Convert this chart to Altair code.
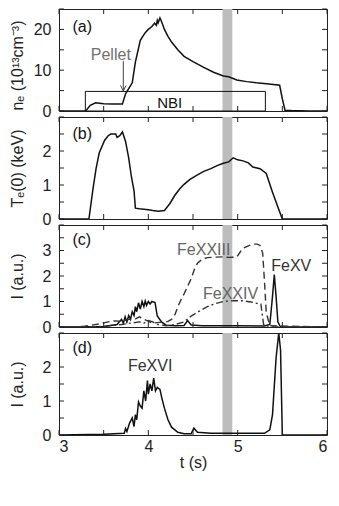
import altair as alt
import pandas as pd

# ---------------- data ----------------
ne_t = [3.0, 3.29, 3.31, 3.35, 3.41, 3.5, 3.6, 3.71, 3.745, 3.78, 3.82, 3.855, 3.91, 3.965, 4.0, 4.04,
        4.07, 4.09, 4.1, 4.11, 4.13, 4.15, 4.18, 4.22, 4.26, 4.33, 4.40, 4.5, 4.62, 4.73, 4.84, 4.9,
        4.99, 5.1, 5.21, 5.35, 5.47, 5.5, 5.53, 5.6, 5.8, 6.0]
ne_v = [0, 0, 0.3, 1.4, 2.0, 1.8, 1.7, 1.7, 4.2, 5.5, 6.9, 12, 17.3, 19.2, 20, 20.7,
        21.5, 21.0, 22.2, 21.6, 22.8, 21.8, 20, 18.3, 16.9, 15, 13.4, 12.1, 10.7, 9.5, 8.6, 8.4,
        7.6, 7.2, 6.9, 6.6, 6.3, 3, 0.2, 0.1, 0, 0]

te_t = [3.0, 3.335, 3.38, 3.415, 3.45, 3.51, 3.55, 3.58, 3.635, 3.65, 3.68, 3.71, 3.745, 3.78, 3.81,
        3.84, 3.855, 3.9, 3.95, 4.0, 4.05, 4.11, 4.18, 4.24, 4.295, 4.35, 4.40, 4.47, 4.55, 4.62,
        4.70, 4.77, 4.84, 4.9, 4.95, 5.0, 5.06, 5.12, 5.17, 5.25, 5.32, 5.39, 5.45, 5.50, 6.0]
te_v = [0, 0, 0.88, 1.48, 1.94, 2.31, 2.45, 2.5, 2.5, 2.4, 2.45, 2.56, 2.28, 1.8, 1.25,
        0.83, 0.32, 0.3, 0.29, 0.27, 0.25, 0.23, 0.25, 0.45, 0.69, 0.88, 1.02, 1.17, 1.3, 1.4,
        1.48, 1.57, 1.64, 1.68, 1.8, 1.74, 1.71, 1.65, 1.53, 1.48, 1.34, 0.79, 0.35, 0, 0]

fe15_t = [3.0, 3.5, 3.65, 3.7, 3.72, 3.74, 3.76, 3.78, 3.8, 3.82, 3.84, 3.855, 3.87, 3.89, 3.91,
          3.93, 3.95, 3.965, 3.98, 4.0, 4.02, 4.04, 4.075, 4.1, 4.15, 4.2, 4.3, 4.4, 4.44, 4.48,
          4.6, 5.0, 5.3, 5.36, 5.39, 5.41, 5.43, 5.45, 5.48, 6.0]
fe15_v = [0, 0.02, 0.1, 0.3, 0.15, 0.4, 0.2, 0.45, 0.3, 0.6, 0.45, 0.8, 0.6, 0.95, 0.7,
          1.0, 0.8, 1.02, 0.85, 1.0, 0.9, 1.0, 0.96, 0.43, 0.19, 0.07, 0.05, 0.06, 0.25, 0.08,
          0.05, 0.05, 0.04, 0.1, 1.2, 2.06, 1.2, 0.2, 0, 0]

fe23_t = [3.0, 3.27, 3.45, 3.55, 3.62, 3.7, 3.78, 3.85, 3.9, 3.95, 4.05, 4.15, 4.22, 4.26, 4.3,
          4.33, 4.37, 4.40, 4.44, 4.48, 4.52, 4.55, 4.6, 4.66, 4.75, 4.84, 4.9, 4.99, 5.03, 5.06,
          5.12, 5.17, 5.22, 5.25, 5.28, 5.30, 5.32, 5.36, 6.0]
fe23_v = [0, 0.02, 0.12, 0.2, 0.24, 0.22, 0.3, 0.3, 0.4, 0.3, 0.15, 0.19, 0.22, 0.3, 0.5,
          0.8, 1.1, 1.3, 1.6, 1.9, 2.3, 2.5, 2.65, 2.72, 2.74, 2.75, 2.73, 2.74, 2.95, 3.09,
          3.18, 3.25, 3.25, 3.2, 2.9, 1.8, 0.56, 0.05, 0]

fe24_t = [3.0, 3.5, 3.7, 3.8, 3.9, 3.95, 4.0, 4.05, 4.1, 4.2, 4.3, 4.4, 4.48, 4.56, 4.66,
          4.75, 4.84, 4.95, 5.06, 5.15, 5.21, 5.26, 5.29, 5.32, 6.0]
fe24_v = [0, 0.02, 0.1, 0.15, 0.2, 0.15, 0.25, 0.2, 0.1, 0.05, 0.1, 0.2, 0.43, 0.6, 0.8,
          0.92, 1.0, 1.03, 1.03, 0.98, 0.93, 0.9, 0.1, 0, 0]

fe16_t = [3.0, 3.5, 3.73, 3.745, 3.76, 3.79, 3.82, 3.84, 3.855, 3.87, 3.89, 3.91, 3.93, 3.95,
          3.97, 3.99, 4.0, 4.02, 4.04, 4.06, 4.08, 4.10, 4.13, 4.15, 4.18, 4.22, 4.26, 4.33,
          4.40, 4.48, 4.51, 4.55, 4.7, 5.0, 5.3, 5.36, 5.39, 5.43, 5.46, 5.48, 5.50, 6.0]
fe16_v = [0, 0.02, 0.05, 0.19, 0.1, 0.35, 0.5, 0.25, 0.6, 0.45, 0.97, 0.85, 0.79, 1.3,
          1.0, 1.6, 1.2, 1.5, 1.3, 1.67, 1.3, 1.4, 1.34, 1.1, 0.79, 0.45, 0.23, 0.08,
          0.04, 0.04, 0.2, 0.08, 0.05, 0.05, 0.05, 0.15, 0.6, 2.27, 3.0, 2.5, 0, 0]

band_t = [4.83, 4.94]            # shaded time window
nbi_t = [3.295, 5.31]            # NBI on/off
nbi_level = 4.8
pellet_t = 3.72
pellet_arrow = [12.2, 4.9]

x_ticks = [3, 3.5, 4, 4.5, 5, 5.5, 6]
x_labels = [3, 4, 5, 6]

panel_letters = ["(a)", "(b)", "(c)", "(d)"]
letter_y = [20.7, 2.5, 3.4, 2.55]
letter_t = 3.15

# annotation texts: (text, t, y, colour)
ann_a = [("Pellet", 3.58, 13.8, "#707070"), ("NBI", 4.24, 2.0, "#111111")]
ann_c = [("FeXXIII", 4.62, 3.03, "#666666"), ("FeXXIV", 4.92, 1.3, "#666666"),
         ("FeXV", 5.60, 2.4, "#333333")]
ann_d = [("FeXVI", 4.02, 2.03, "#333333")]

W, H = 268, 102
TK = 5  # tick length (inward)
FONT = "Liberation Sans"
INK = "#222222"
XS = alt.Scale(domain=[3, 6], nice=False)


def df(t, v):
    return pd.DataFrame({"t": t, "v": v})


def panel(lines, ydom, yticks, ylabels, ytitle, xlabels, extra=(), title_y=H / 2):
    ys = alt.Scale(domain=ydom, nice=False)
    none_x = alt.X("t:Q", scale=XS, axis=None)
    none_y = alt.Y("v:Q", scale=ys, axis=None)

    band = alt.Chart(pd.DataFrame({"t": [band_t[0]], "t2": [band_t[1]]})).mark_rect(
        color="#bdbdbd").encode(x=none_x, x2="t2:Q")

    if xlabels:
        ax_bottom = alt.Axis(orient="bottom", values=x_labels, ticks=False, tickSize=0,
                             domain=False, grid=False, labelFlush=True, labelOverlap=False,
                             format="d", labelPadding=3, title="t (s)", titlePadding=0)
    else:
        ax_bottom = None
    ax_left = alt.Axis(orient="left", values=ylabels, ticks=False, tickSize=0, domain=False,
                       grid=False, labelPadding=8, labelOverlap=False,
                       format="d", title=ytitle, titleX=-34, titleY=title_y, titleAngle=270,
                       titleAlign="center", titleBaseline="bottom")

    d0, style0 = lines[0]
    main = alt.Chart(d0).mark_line(clip=True, color="#111111", strokeWidth=1.5,
                                   **style0).encode(
        x=alt.X("t:Q", scale=XS, axis=ax_bottom), y=alt.Y("v:Q", scale=ys, axis=ax_left))
    others = [alt.Chart(d).mark_line(clip=True, color="#333333", strokeWidth=1.4, **st).encode(
        x=none_x, y=none_y) for d, st in lines[1:]]

    ytk = pd.DataFrame({"v": yticks})
    xtk = pd.DataFrame({"t": x_ticks})
    tick_style = dict(color=INK, strokeWidth=1)
    ticks = [
        alt.Chart(ytk).mark_rule(**tick_style).encode(y=none_y, x=alt.value(0), x2=alt.value(TK)),
        alt.Chart(ytk).mark_rule(**tick_style).encode(y=none_y, x=alt.value(W - TK), x2=alt.value(W)),
        alt.Chart(xtk).mark_rule(**tick_style).encode(x=none_x, y=alt.value(0), y2=alt.value(TK)),
        alt.Chart(xtk).mark_rule(**tick_style).encode(x=none_x, y=alt.value(H - TK), y2=alt.value(H)),
    ]

    layers = [band] + list(extra) + [main] + others + ticks
    return layers, none_x, none_y


def text_layer(items, none_x, none_y, align="center", size=16):
    d = pd.DataFrame(items, columns=["label", "t", "v", "c"])
    return alt.Chart(d).mark_text(font=FONT, fontSize=size, align=align, baseline="middle").encode(
        x=none_x, y=none_y, text="label:N", color=alt.Color("c:N", scale=None))


def finish(layers, letter_idx, none_x, none_y):
    lt = text_layer([(panel_letters[letter_idx], letter_t, letter_y[letter_idx], "#111111")],
                    none_x, none_y, align="left")
    return alt.layer(*layers, lt).resolve_axis(x="independent", y="independent").properties(
        width=W, height=H)


# ---- panel (a)
ys_a = alt.Scale(domain=[0, 25], nice=False)
nbi = alt.Chart(pd.DataFrame({"t": [nbi_t[0]], "t2": [nbi_t[1]], "v": [0], "v2": [nbi_level]})).mark_rect(
    fill="transparent", stroke="#111111", strokeWidth=1).encode(
    x=alt.X("t:Q", scale=XS, axis=None), x2="t2:Q",
    y=alt.Y("v:Q", scale=ys_a, axis=None), y2="v2:Q")
la, nxa, nya = panel([(df(ne_t, ne_v), {})], [0, 25], [0, 5, 10, 15, 20, 25], [0, 10, 20],
                     "nₑ (10¹³cm⁻³)", False, extra=[nbi], title_y=H / 2 + 5)
arrow = alt.Chart(pd.DataFrame({"t": [pellet_t], "v": [pellet_arrow[0]], "v2": [pellet_arrow[1]]})).mark_rule(
    color="#444444", strokeWidth=1).encode(x=nxa, y=nya, y2="v2:Q")
head = alt.Chart(pd.DataFrame({"t": [pellet_t], "v": [pellet_arrow[1]]})).mark_point(
    shape="M-0.8,-1.6L0,0L0.8,-1.6", size=49, filled=False, color="#444444", strokeWidth=1,
    opacity=1).encode(x=nxa, y=nya)
la += [arrow, head, text_layer(ann_a[:1], nxa, nya), text_layer(ann_a[1:], nxa, nya, size=15)]
pa = finish(la, 0, nxa, nya)

# ---- panel (b)
lb, nxb, nyb = panel([(df(te_t, te_v), {})], [0, 3], [0, 0.5, 1, 1.5, 2, 2.5, 3], [0, 1, 2],
                     "Tₑ(0) (keV)", False)
pb = finish(lb, 1, nxb, nyb)

# ---- panel (c)
lc, nxc, nyc = panel([(df(fe15_t, fe15_v), {}),
                      (df(fe23_t, fe23_v), {"strokeDash": [7, 4]}),
                      (df(fe24_t, fe24_v), {"strokeDash": [7, 3, 2, 3]})],
                     [0, 4], [0, 0.5, 1, 1.5, 2, 2.5, 3, 3.5, 4], [0, 1, 2, 3],
                     "I (a.u.)", False)
lc += [text_layer(ann_c, nxc, nyc)]
pc = finish(lc, 2, nxc, nyc)

# ---- panel (d)
ld, nxd, nyd = panel([(df(fe16_t, fe16_v), {})], [0, 3], [0, 0.5, 1, 1.5, 2, 2.5, 3], [0, 1, 2],
                     "I (a.u.)", True)
ld += [text_layer(ann_d, nxd, nyd)]
pd_ = finish(ld, 3, nxd, nyd)

chart = alt.vconcat(pa, pb, pc, pd_, spacing=6, bounds="flush").properties(
    padding={"left": 0, "top": 0, "right": 0, "bottom": 0}
).configure(font=FONT).configure_view(stroke=INK, strokeWidth=1).configure_axis(
    labelFontSize=16, titleFontSize=16, labelColor=INK, titleColor=INK,
    titleFontWeight="normal", labelFont=FONT, titleFont=FONT)

chart.save("out.html", embed_options={"renderer": "svg", "actions": False})
